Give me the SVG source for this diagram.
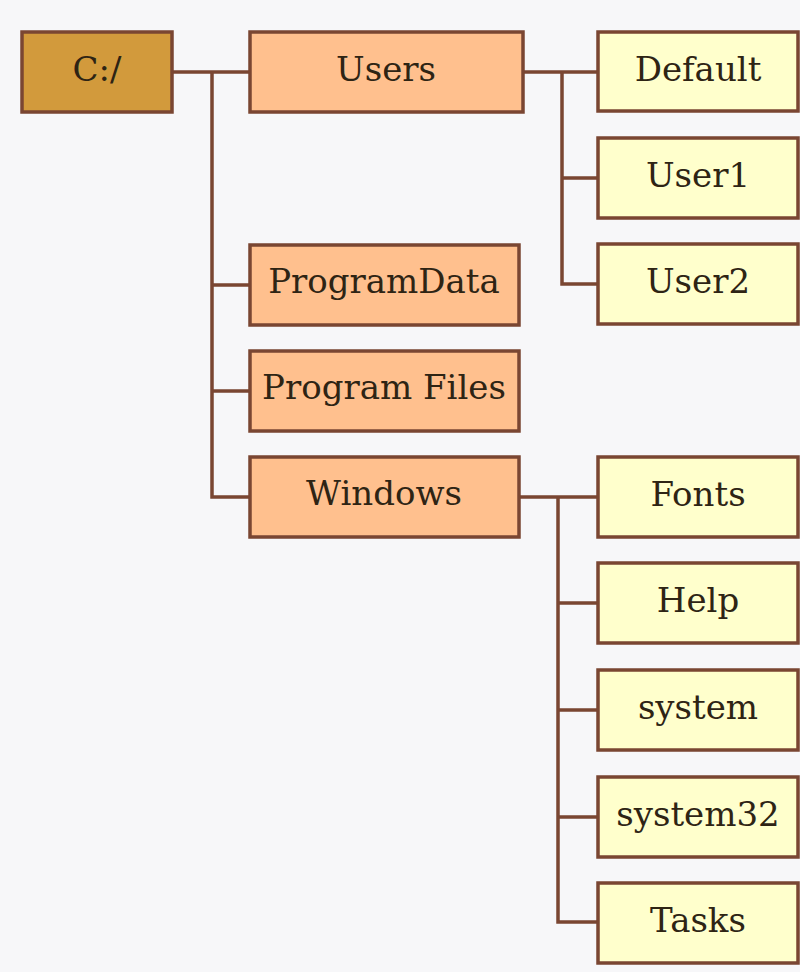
<svg xmlns="http://www.w3.org/2000/svg" width="800" height="972" viewBox="0 0 800 972">
<style>
.b{stroke:#7a4632;stroke-width:3.5}
.root{fill:#d29a3c}
.l1{fill:#ffc08e}
.l2{fill:#ffffcc}
text{font-family:"DejaVu Serif",serif;font-size:34px;fill:#2e2414;text-anchor:middle}
.c{fill:none;stroke:#7a4632;stroke-width:3.5}
</style>
<rect x="0" y="0" width="800" height="972" fill="#f7f7f9"/>
<g id="connectors">
<path class="c" d="M172 72H250M212 72V497H250M212 285H250M212 391H250"/>
<path class="c" d="M523 72H598M562 72V284H598M562 178H598"/>
<path class="c" d="M519 497H598M558 497V922H598M558 603H598M558 710H598M558 817H598"/>
</g>
<g id="root"><rect class="b root" x="22" y="32" width="150" height="80"/><text x="97" y="81">C:/</text></g>
<g id="users"><rect class="b l1" x="250" y="32" width="273" height="80"/><text x="386" y="81">Users</text></g>
<g id="programdata"><rect class="b l1" x="250" y="245" width="269" height="80"/><text x="384" y="293">ProgramData</text></g>
<g id="programfiles"><rect class="b l1" x="250" y="351" width="269" height="80"/><text x="384" y="399">Program Files</text></g>
<g id="windows"><rect class="b l1" x="250" y="457" width="269" height="80"/><text x="384" y="505">Windows</text></g>
<g id="default"><rect class="b l2" x="598" y="32" width="200" height="79"/><text x="698" y="81">Default</text></g>
<g id="user1"><rect class="b l2" x="598" y="138" width="200" height="80"/><text x="698" y="187">User1</text></g>
<g id="user2"><rect class="b l2" x="598" y="244" width="200" height="80"/><text x="698" y="293">User2</text></g>
<g id="fonts"><rect class="b l2" x="598" y="457" width="200" height="80"/><text x="698" y="506">Fonts</text></g>
<g id="help"><rect class="b l2" x="598" y="563" width="200" height="80"/><text x="698" y="612">Help</text></g>
<g id="system"><rect class="b l2" x="598" y="670" width="200" height="80"/><text x="698" y="719">system</text></g>
<g id="system32"><rect class="b l2" x="598" y="777" width="200" height="80"/><text x="698" y="826">system32</text></g>
<g id="tasks"><rect class="b l2" x="598" y="883" width="200" height="80"/><text x="698" y="932">Tasks</text></g>
</svg>
